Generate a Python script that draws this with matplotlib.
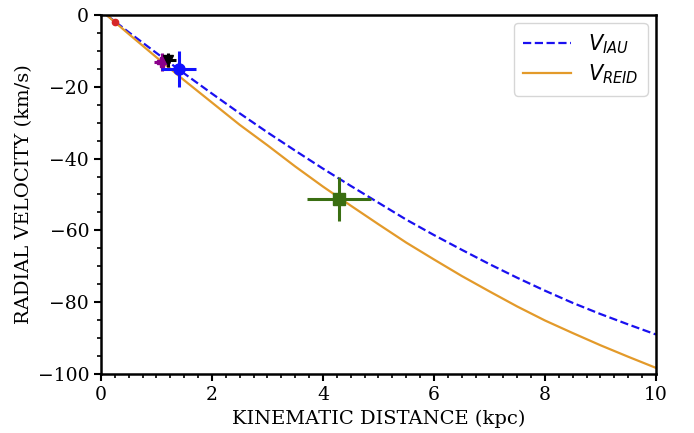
import matplotlib
matplotlib.use("Agg")
import matplotlib.pyplot as plt
from matplotlib.ticker import MultipleLocator

# Rotation-curve radial velocities vs kinematic distance
distance_kpc = [0.1, 0.5, 1.0, 1.5, 2.0, 2.5, 3.0, 3.5, 4.0, 4.5, 5.0,
                5.5, 6.0, 6.5, 7.0, 7.5, 8.0, 8.5, 9.0, 9.5, 10.0]
v_iau = [0.0, -4.8, -10.6, -16.3, -21.9, -27.4, -32.7, -37.8, -42.8, -47.6, -52.3,
         -57.0, -61.3, -65.4, -69.4, -73.2, -76.8, -80.2, -83.3, -86.2, -89.0]
v_reid = [0.0, -5.3, -11.8, -18.2, -24.4, -30.6, -36.3, -42.2, -47.8, -53.1, -58.3,
          -63.4, -68.1, -72.7, -77.0, -81.2, -85.1, -88.6, -92.0, -95.2, -98.3]

# Individual sources: distance, velocity, errors, colour, marker
src_d = [0.25, 1.10, 1.21, 1.40, 4.29]
src_v = [-2.0, -13.1, -12.5, -15.0, -51.3]
src_derr = [0.0, 0.15, 0.14, 0.31, 0.58]
src_verr = [0.0, 2.5, 2.0, 5.0, 6.2]
src_colors = ["#d62728", "#8b008b", "black", "#1010ff", "#3a6e12"]
src_markers = ["o", "P", "v", "o", "s"]
src_msize = [4.5, 7, 7, 8, 8]

plt.rcParams["font.family"] = ["DejaVu Serif"]
plt.rcParams["mathtext.fontset"] = "dejavusans"

fig = plt.figure(figsize=(6.94, 4.33), dpi=100)
ax = fig.add_axes([0.1455, 0.1363, 0.7997, 0.8291])

ax.plot(distance_kpc, v_iau, color="#1a10f0", ls="--", lw=1.6, label=r"$V_{IAU}$")
ax.plot(distance_kpc, v_reid, color="#e39a2a", ls="-", lw=1.6, label=r"$V_{REID}$")

for d, v, de, ve, c, m, ms in zip(src_d, src_v, src_derr, src_verr,
                                   src_colors, src_markers, src_msize):
    if de > 0 or ve > 0:
        ax.errorbar(d, v, xerr=de, yerr=ve, fmt=m, color=c, ms=ms,
                    elinewidth=2.2, capsize=0, zorder=5)
    else:
        ax.plot(d, v, m, color=c, ms=ms, zorder=5)

ax.set_xlim(0, 10)
ax.set_ylim(-100, 0)
ax.xaxis.set_major_locator(MultipleLocator(2))
ax.xaxis.set_minor_locator(MultipleLocator(0.25))
ax.yaxis.set_major_locator(MultipleLocator(20))
ax.yaxis.set_minor_locator(MultipleLocator(5))
ax.tick_params(which="major", direction="out", length=5, width=1.5,
               labelsize=13.5, top=False, right=False)
ax.tick_params(which="minor", direction="out", length=3, width=1.2,
               top=False, right=False)
for s in ax.spines.values():
    s.set_linewidth(1.8)

ax.set_xlabel("KINEMATIC DISTANCE (kpc)", fontsize=14, labelpad=4)
ax.set_ylabel("RADIAL VELOCITY (km/s)", fontsize=14, labelpad=3)

leg = ax.legend(loc="upper right", fontsize=15, handlelength=2.3,
                borderpad=0.45, labelspacing=0.3, borderaxespad=0.4,
                frameon=True)
leg.get_frame().set_edgecolor("#cccccc")

fig.savefig("out.png", dpi=100)
